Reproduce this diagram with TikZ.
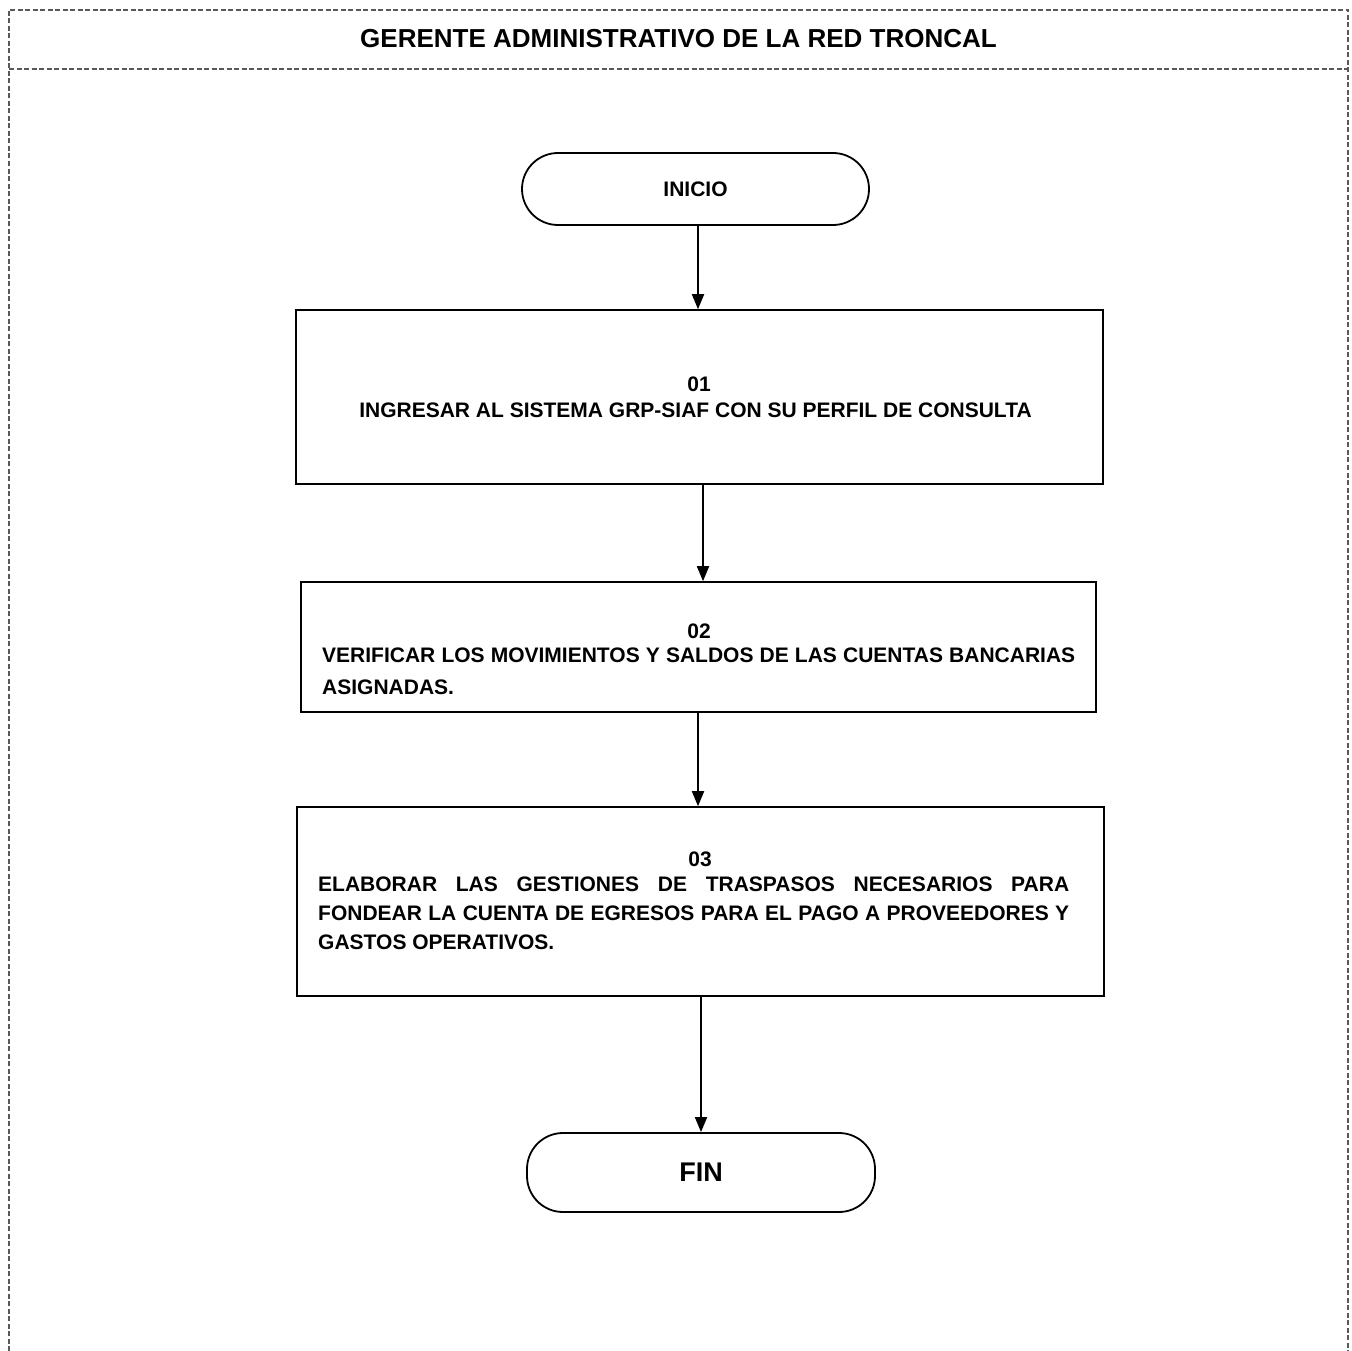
\documentclass[tikz,border=0pt]{standalone}
\usepackage{fontspec}
\setmainfont{Liberation Sans}
\usetikzlibrary{arrows.meta}
\begin{document}
\begin{tikzpicture}[x=1pt,y=-1pt,
  frame/.style={draw=black!65, line width=1.4pt, dash pattern=on 5pt off 2.5pt},
  term/.style={draw=black, line width=1.8pt, rounded corners=36pt, inner sep=0pt},
  stepbox/.style={draw=black, line width=1.6pt, inner sep=0pt},
  txt/.style={inner sep=0pt, font=\bfseries\fontsize{21pt}{25pt}\selectfont},
  flow/.style={draw=black, line width=1.8pt, -{Triangle[length=15pt,width=12pt]}}
]
\useasboundingbox (0,0) rectangle (1352,1351);
% outer frame
\draw[frame] (9,1351) -- (9,10) -- (1348,10) -- (1348,1351);
\draw[frame] (9,69) -- (1348,69);
\node[inner sep=0pt, font=\bfseries\fontsize{26pt}{30pt}\selectfont] (title) at (678.5,39) {GERENTE ADMINISTRATIVO DE LA RED TRONCAL};

% terminals
\node[term, minimum width=347pt, minimum height=72pt, txt] (inicio) at (695.5,189) {INICIO};
\node[term, minimum width=348pt, minimum height=79pt, font=\bfseries\fontsize{27pt}{30pt}\selectfont] (fin) at (701,1172.5) {FIN};

% process boxes
\node[stepbox, minimum width=807pt, minimum height=174pt] (b1) at (699.5,397) {};
\node[stepbox, minimum width=795pt, minimum height=130pt] (b2) at (698.5,647) {};
\node[stepbox, minimum width=807pt, minimum height=189pt] (b3) at (700.5,901.5) {};

% box 1 text
\node[txt] (n1) at (699,384) {01};
\node[txt] (t1) at (695.5,410) {INGRESAR AL SISTEMA GRP-SIAF CON SU PERFIL DE CONSULTA};

% box 2 text
\node[txt] (n2) at (699,631) {02};
\node[txt, anchor=west] (t2a) at (322,655) {\makebox[753pt][s]{VERIFICAR LOS MOVIMIENTOS Y SALDOS DE LAS CUENTAS BANCARIAS}};
\node[txt, anchor=west] (t2b) at (322,687) {ASIGNADAS.};

% box 3 text
\node[txt] (n3) at (700,859) {03};
\node[txt, anchor=west] (t3a) at (318,884) {\makebox[751pt][s]{ELABORAR LAS GESTIONES DE TRASPASOS NECESARIOS PARA}};
\node[txt, anchor=west] (t3b) at (318,913) {\makebox[751pt][s]{FONDEAR LA CUENTA DE EGRESOS PARA EL PAGO A PROVEEDORES Y}};
\node[txt, anchor=west] (t3c) at (318,942) {GASTOS OPERATIVOS.};

% connectors
\draw[flow] (inicio.south -| 698,0) -- (b1.north -| 698,0);
\draw[flow] (b1.south -| 703,0) -- (b2.north -| 703,0);
\draw[flow] (b2.south -| 698,0) -- (b3.north -| 698,0);
\draw[flow] (b3.south -| 701,0) -- (fin.north -| 701,0);
\end{tikzpicture}
\end{document}
